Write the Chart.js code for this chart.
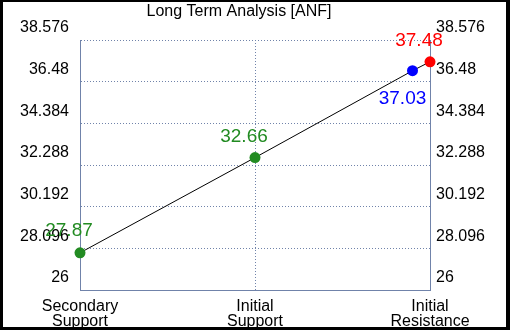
<!DOCTYPE html>
<html>
<head>
<meta charset="utf-8">
<script src="https://cdn.jsdelivr.net/npm/chart.js@4/dist/chart.umd.min.js"></script>
<style>
  html, body { margin: 0; padding: 0; background: #000; }
  #wrap { position: absolute; left: 3px; top: 2px; width: 503px; height: 325px; background: #fff; }
</style>
</head>
<body>
<div id="wrap"><canvas id="chart" width="503" height="325"></canvas></div>
<script>
// data
const chartTitle = "Long Term Analysis [ANF]";
const categories = [["Secondary", "Support"], ["Initial", "Support"], ["Initial", "Resistance"]];
const pointX = [0, 1, 1.9, 2];
const pointValues = [27.87, 32.66, 37.03, 37.48];
const pointColors = ["#228b22", "#228b22", "#0000ff", "#ff0000"];
const yTicks = [26, 28.096, 30.192, 32.288, 34.384, 36.48, 38.576];

const axisColor = "#7083aa";
const font = "'Liberation Sans', Arial, sans-serif";

// where each value label sits relative to its point
const labelShift = [[-11, -22], [-11, -21], [-10, 28], [-11, -21]];

const valueLabels = {
  id: "valueLabels",
  afterDatasetsDraw(chart) {
    const ctx = chart.ctx;
    const meta = chart.getDatasetMeta(0);
    ctx.save();
    ctx.font = "19px " + font;
    ctx.textAlign = "center";
    ctx.textBaseline = "middle";
    meta.data.forEach((pt, i) => {
      ctx.fillStyle = pointColors[i];
      ctx.fillText(pointValues[i].toFixed(2), pt.x + labelShift[i][0], pt.y + labelShift[i][1]);
    });
    ctx.restore();
  },
  afterDraw(chart) {
    const ctx = chart.ctx;
    ctx.save();
    ctx.font = "16px " + font;
    ctx.fillStyle = "#000";
    ctx.textAlign = "center";
    ctx.textBaseline = "middle";
    ctx.fillText(chartTitle, 236, 10);
    ctx.restore();
  },
};

const yAxis = (side) => ({
  type: "linear",
  position: side,
  min: yTicks[0],
  max: yTicks[yTicks.length - 1],
  afterBuildTicks: (scale) => { scale.ticks = yTicks.map((v) => ({ value: v })); },
  afterFit: (scale) => { scale.width = side === "left" ? 77 : 76; },
  grid: { display: side === "left", color: axisColor, lineWidth: 1, drawTicks: false },
  border: { display: true, color: axisColor, width: 1, dash: [1, 2] },
  ticks: {
    color: "#000",
    font: { family: font, size: 16 },
    padding: side === "left" ? 11 : 6,
    labelOffset: -12,
    callback: (v) => String(+v.toFixed(3)),
  },
});

new Chart(document.getElementById("chart"), {
  type: "scatter",
  data: {
    datasets: [
      {
        data: pointX.map((x, i) => ({ x: x, y: pointValues[i] })),
        showLine: true,
        borderColor: "#000",
        borderWidth: 1,
        pointRadius: 5.5,
        pointHoverRadius: 5.5,
        pointBorderWidth: 0,
        pointBackgroundColor: pointColors,
        clip: false,
      },
    ],
  },
  options: {
    responsive: false,
    animation: false,
    devicePixelRatio: 1,
    layout: { padding: { top: 38, left: 0, right: 0, bottom: 0 } },
    plugins: { legend: { display: false }, title: { display: false }, tooltip: { enabled: false } },
    scales: {
      x: {
        type: "linear",
        min: 0,
        max: 2,
        afterBuildTicks: (scale) => { scale.ticks = categories.map((c, i) => ({ value: i })); },
        afterFit: (scale) => { scale.height = 37; },
        grid: { color: axisColor, lineWidth: 1, drawTicks: false },
        border: { display: true, color: axisColor, width: 1, dash: [1, 2] },
        ticks: {
          color: "#000",
          font: { family: font, size: 16, lineHeight: 0.95 },
          padding: 9,
          maxRotation: 0,
          autoSkip: false,
          callback: (v) => categories[v],
        },
      },
      y: yAxis("left"),
      y2: yAxis("right"),
    },
  },
  plugins: [valueLabels],
});
</script>
</body>
</html>
